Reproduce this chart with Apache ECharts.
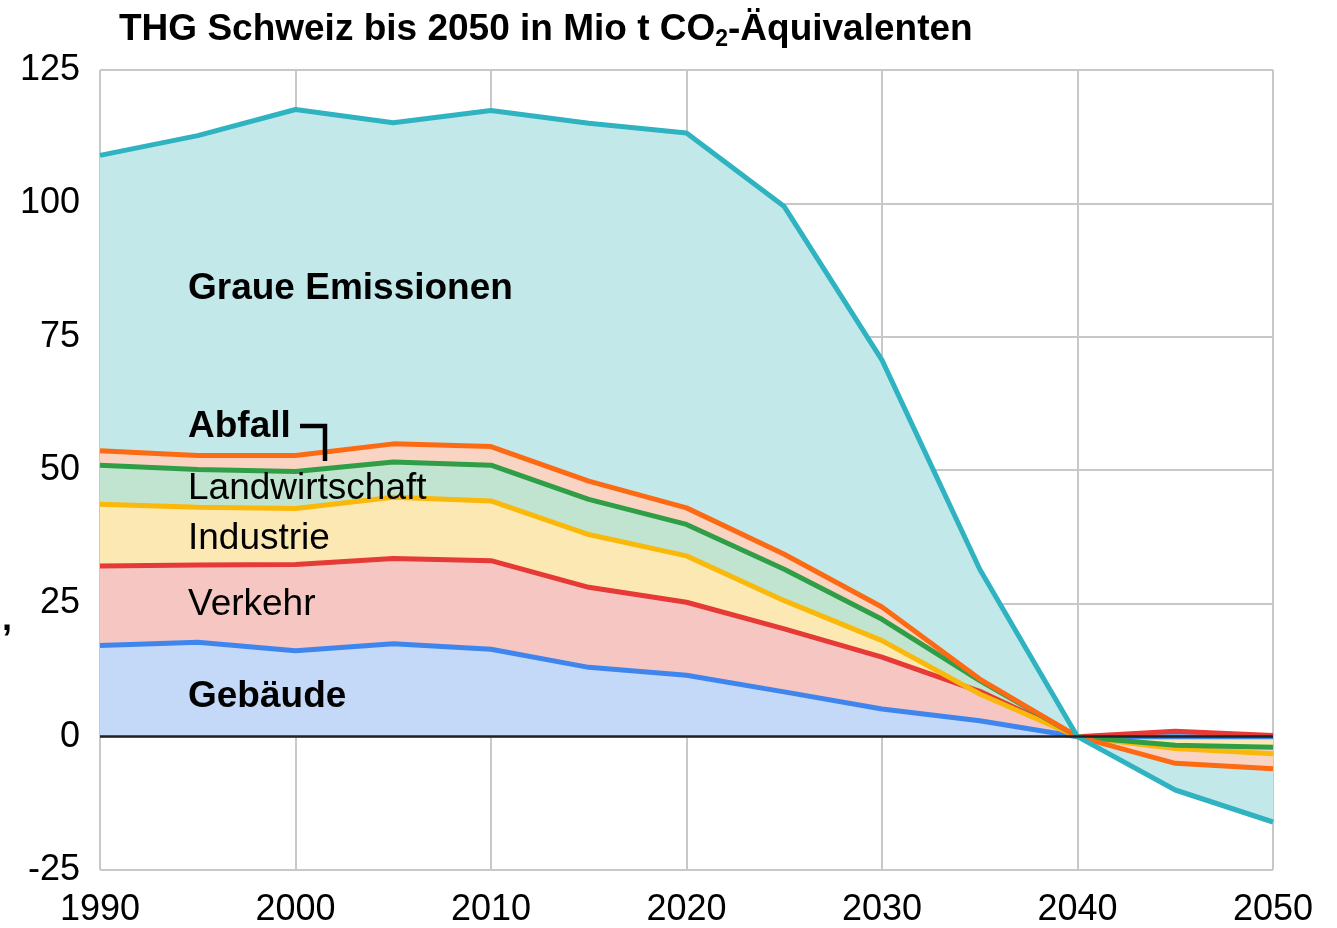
<!DOCTYPE html>
<html>
<head>
<meta charset="utf-8">
<title>THG Schweiz bis 2050</title>
<script src="https://cdn.jsdelivr.net/npm/echarts@6/dist/echarts.min.js"></script>
<style>
  html, body { margin: 0; padding: 0; background: #fff; }
  #chart { width: 1337px; height: 928px; }
</style>
</head>
<body>
<div id="chart"></div>
<script>
  // Jahre (alle 5 Jahre)
  var years = ['1990', '1995', '2000', '2005', '2010', '2015', '2020', '2025', '2030', '2035', '2040', '2045', '2050'];

  // Emissionen je Sektor, Mio t CO2-eq (gestapelt)
  var gebaeude       = [17.1, 17.7, 16.1, 17.4, 16.4, 13.0, 11.5, 8.4, 5.2, 3.0, 0, 0, 0];
  var verkehr        = [14.9, 14.5, 16.2, 16.0, 16.6, 15.0, 13.7, 11.8, 9.7, 5.5, 0, 1.0, 0.2];
  var industrie      = [11.6, 10.8, 10.5, 11.5, 11.2, 9.9, 8.7, 5.3, 3.1, -0.5, 0, -3.2, -3.4];
  var landwirtschaft = [7.3, 7.1, 6.9, 6.6, 6.7, 6.6, 5.9, 5.9, 4.0, 2.5, 0, 0.6, 1.2];
  var abfall         = [2.7, 2.6, 3.0, 3.4, 3.5, 3.4, 3.1, 2.8, 2.3, 0.3, 0, -3.4, -4.0];
  var graue          = [55.4, 60.0, 64.9, 60.2, 63.0, 67.1, 70.3, 65.2, 46.3, 20.6, 0, -5.0, -10.0];

  var yTicks = [-25, 0, 25, 50, 75, 100, 125];

  var font = '"Liberation Sans", Arial, sans-serif';

  function areaSeries(name, data, line, fill) {
    return {
      name: name,
      type: 'line',
      stack: 'thg',
      stackStrategy: 'all',
      data: data,
      symbol: 'none',
      smooth: false,
      lineStyle: { color: line, width: 5 },
      itemStyle: { color: line },
      areaStyle: { color: fill, opacity: 1 },
      emphasis: { disabled: true },
      silent: true
    };
  }

  var chart = echarts.init(document.getElementById('chart'));

  var series = [
    areaSeries('Gebäude', gebaeude, '#3f85ee', '#c4d8f8'),
    areaSeries('Verkehr', verkehr, '#e53a36', '#f6c6c3'),
    areaSeries('Industrie', industrie, '#f9b80a', '#fce8b2'),
    areaSeries('Landwirtschaft', landwirtschaft, '#2f9e47', '#c0e4cf'),
    areaSeries('Abfall', abfall, '#fd6a14', '#f9d4c2'),
    areaSeries('Graue Emissionen', graue, '#2fb3c0', '#c3e8ea')
  ];

  // schwarze Nulllinie
  series[0].markLine = {
    silent: true,
    symbol: 'none',
    label: { show: false },
    lineStyle: { color: '#222', width: 2.5, type: 'solid' },
    data: [{ yAxis: 0 }]
  };

  function label(text, top, bold) {
    return {
      type: 'text', left: 188, top: top, z: 100,
      style: { text: text, font: (bold ? 'bold ' : '') + '37px ' + font, fill: '#000' }
    };
  }

  var option = {
    animation: false,
    backgroundColor: '#fff',
    textStyle: { fontFamily: font },
    title: {
      left: 114,
      top: 3,
      text: '{a|THG Schweiz bis 2050 in Mio t CO}{s|2}{a|-Äquivalenten}',
      textStyle: {
        rich: {
          a: { fontFamily: font, fontWeight: 'bold', fontSize: 37, color: '#000', lineHeight: 44 },
          s: { fontFamily: font, fontWeight: 'bold', fontSize: 23, color: '#000', padding: [20, 0, 0, 0], lineHeight: 44 }
        }
      }
    },
    grid: { left: 100, right: 64, top: 70, bottom: 55 },
    xAxis: {
      type: 'category',
      data: years,
      boundaryGap: false,
      axisLine: { show: false },
      axisTick: { show: false },
      axisLabel: {
        interval: 1,
        color: '#000',
        fontSize: 36,
        fontFamily: font,
        margin: 22
      },
      splitLine: {
        show: true,
        interval: 1,
        lineStyle: { color: '#c8c8c8', width: 2 }
      }
    },
    yAxis: {
      type: 'value',
      min: yTicks[0],
      max: yTicks[yTicks.length - 1],
      interval: 25,
      axisLine: { show: false },
      axisTick: { show: false },
      axisLabel: {
        color: '#000',
        fontSize: 36,
        fontFamily: font,
        margin: 20
      },
      splitLine: { lineStyle: { color: '#c8c8c8', width: 2 } }
    },
    series: series,
    graphic: [
      label('Graue Emissionen', 270, true),
      label('Abfall', 408, true),
      label('Landwirtschaft', 470, false),
      label('Industrie', 520, false),
      label('Verkehr', 586, false),
      label('Gebäude', 678, true),
      { type: 'text', left: 2, top: 602, z: 100, style: { text: ',', font: 'bold 36px ' + font, fill: '#000' } },
      {
        type: 'polyline', z: 100,
        shape: { points: [[300, 426], [325, 426], [325, 461]] },
        style: { stroke: '#000', lineWidth: 4.5, fill: null }
      }
    ]
  };

  chart.setOption(option);
</script>
</body>
</html>
